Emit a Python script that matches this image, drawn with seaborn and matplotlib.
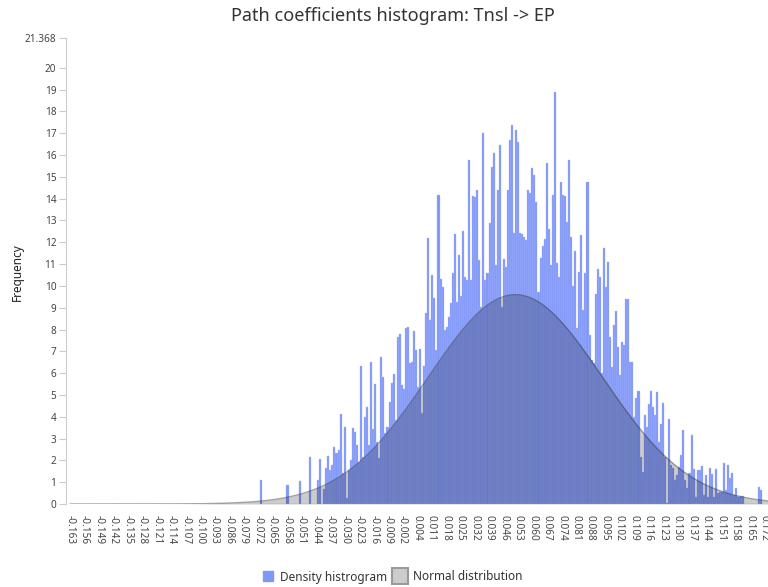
import numpy as np
import pandas as pd
import matplotlib
matplotlib.use("Agg")
import matplotlib.pyplot as plt
from matplotlib.lines import Line2D
import seaborn as sns

# Bootstrap path coefficient histogram (Tnsl -> EP)
first_bin_left = -0.0713
bin_width = 0.000985
freq = [
    1.1, 0, 0, 0, 0, 0, 0, 0, 0, 0, 0, 0, 0, 0.85, 0, 0, 0, 0, 0, 1.05,
    0, 0, 0, 0, 2.17, 0, 0, 0, 1.1, 2.06, 0, 0.7, 1.65, 2.2, 1.56, 1.8, 2.6, 2.35, 2.48, 4.13,
    1.4, 3.55, 0.27, 1.56, 2.0, 3.48, 3.3, 2.7, 1.94, 6.33, 2.17, 4.0, 4.46, 2.7, 6.5, 3.43, 5.5, 2.86, 2.1, 6.73,
    5.84, 3.25, 3.55, 4.69, 5.57, 5.95, 3.85, 7.65, 7.8, 5.46, 5.26, 8.06, 8.13, 6.48, 6.53, 7.94, 7.06, 5.35, 7.1, 4.16,
    6.33, 8.78, 12.2, 8.44, 10.5, 9.45, 7.05, 14.17, 10.3, 9.97, 7.98, 8.13, 8.59, 9.2, 10.58, 12.4, 9.28, 11.4, 9.54, 12.5,
    10.43, 10.28, 15.78, 10.28, 14.13, 14.07, 14.4, 11.19, 9.05, 17.0, 10.28, 10.58, 12.87, 15.47, 16.09, 10.96, 14.4, 16.47, 9.05, 11.22,
    10.89, 14.4, 16.7, 17.39, 12.42, 17.16, 16.62, 12.42, 12.4, 12.26, 12.1, 14.4, 14.25, 15.4, 15.09, 13.87, 9.74, 11.27, 11.85, 12.14,
    15.63, 12.6, 10.96, 14.17, 18.91, 11.04, 10.43, 14.78, 14.17, 14.12, 12.95, 15.78, 12.26, 10.0, 11.62, 8.06, 10.66, 12.34, 8.9, 10.58,
    14.78, 7.75, 6.6, 6.45, 9.62, 10.76, 10.43, 5.99, 11.75, 9.97, 11.1, 7.67, 6.3, 8.2, 8.87, 7.22, 5.92, 7.42, 7.3, 9.4,
    9.4, 6.53, 6.53, 4.0, 4.85, 5.18, 2.16, 1.48, 4.08, 3.55, 4.58, 5.2, 4.47, 4.08, 5.12, 2.86, 3.66, 4.65, 2.16, 0.05,
    3.88, 1.78, 1.63, 1.1, 1.33, 1.7, 2.25, 3.39, 1.1, 0.72, 1.4, 3.16, 1.6, 0.3, 1.56, 1.56, 1.74, 0.4, 1.33, 0.3,
    1.64, 1.38, 0.3, 1.59, 0.5, 0.57, 0.57, 1.87, 0.64, 1.79, 1.18, 1.44, 0.41, 0.72, 0.3, 0.37, 0.37, 0, 0, 0,
    0, 0, 0, 0, 0.8, 0.64,
]

# Fitted normal distribution
norm_mean = 0.052
norm_sd = 0.042
norm_peak = 9.6

x_tick_labels = [
    "-0.163", "-0.156", "-0.149", "-0.142", "-0.135", "-0.128", "-0.121", "-0.114",
    "-0.107", "-0.100", "-0.093", "-0.086", "-0.079", "-0.072", "-0.065", "-0.058",
    "-0.051", "-0.044", "-0.037", "-0.030", "-0.023", "-0.016", "-0.009", "-0.002",
    "0.004", "0.011", "0.018", "0.025", "0.032", "0.039", "0.046", "0.053",
    "0.060", "0.067", "0.074", "0.081", "0.088", "0.095", "0.102", "0.109",
    "0.116", "0.123", "0.130", "0.137", "0.144", "0.151", "0.158", "0.165", "0.172",
]
x_min_tick = -0.163
x_max_tick = 0.172
y_max = 21.368
y_ticks = list(range(0, 21)) + [y_max]
y_tick_labels = [str(v) for v in range(0, 21)] + ["21.368"]

title = "Path coefficients histogram: Tnsl -> EP"
y_label = "Frequency"
legend_labels = ["Density histrogram", "Normal distribution"]

# ---------------------------------------------------------------------------
sns.set_style("white")
plt.rcParams["font.family"] = ["Noto Sans", "DejaVu Sans"]

bar_color = "#7f97f7"
text_color = "#444444"
axis_color = "#cccccc"

fig = plt.figure(figsize=(7.68, 5.87), dpi=100)
ax = fig.add_axes([66 / 768, 83 / 587, 702 / 768, 466 / 587])

n_bins = len(freq)
centers = first_bin_left + bin_width * (np.arange(n_bins) + 0.5)
df = pd.DataFrame({"coef": centers, "freq": freq})

sns.histplot(data=df, x="coef", weights="freq", binwidth=bin_width,
             binrange=(first_bin_left, first_bin_left + n_bins * bin_width),
             ax=ax, color=bar_color, alpha=1.0, edgecolor="#a9b9fa",
             linewidth=0.25, stat="count", zorder=2)

px_per_unit = 694 / (x_max_tick - x_min_tick)
x_left = x_min_tick - 4 / px_per_unit
x_right = x_max_tick + 4 / px_per_unit

xs = np.linspace(x_min_tick, x_right, 600)
ys = norm_peak * np.exp(-0.5 * ((xs - norm_mean) / norm_sd) ** 2)
curve = pd.DataFrame({"coef": xs, "density": ys})
ax.fill_between(curve["coef"], 0, curve["density"], color="black", alpha=0.2,
                linewidth=0, zorder=3)
sns.lineplot(data=curve, x="coef", y="density", ax=ax, color="#333333",
             alpha=0.45, linewidth=1.0, zorder=4)

ax.set_xlim(x_left, x_right)
ax.set_ylim(0, y_max)

major_ticks = np.linspace(x_min_tick, x_max_tick, len(x_tick_labels))
ax.set_xticks(major_ticks)
ax.set_xticklabels(x_tick_labels, rotation=-90, fontsize=7.2, color=text_color)
minor_ticks = np.arange(x_min_tick, x_right, bin_width)
ax.set_xticks(minor_ticks, minor=True)
ax.tick_params(axis="x", which="minor", length=4, width=0.9, color="#d6d6d6",
               direction="out")
ax.tick_params(axis="x", which="major", length=4, width=0.9, color="#d6d6d6",
               pad=4)

ax.set_yticks(y_ticks)
ax.set_yticklabels(y_tick_labels, fontsize=7.2, color=text_color)
ax.tick_params(axis="y", length=5, width=0.8, color=axis_color, pad=2,
               left=True)

for side in ["top", "right", "bottom"]:
    ax.spines[side].set_visible(False)
ax.spines["left"].set_color(axis_color)
ax.spines["left"].set_linewidth(0.8)

ax.set_xlabel("")
ax.set_ylabel("")
fig.text(17 / 768, 1 - 272 / 587, y_label, rotation=90, ha="center",
         va="center", fontsize=8.5, color="#222222")
fig.text(393 / 768, 1 - 16 / 587, title, ha="center", va="center",
         fontsize=13, color="#333333")

handles = [
    Line2D([], [], linestyle="", marker="s", markersize=7.5,
           markerfacecolor=bar_color, markeredgecolor=bar_color,
           label=legend_labels[0]),
    Line2D([], [], linestyle="", marker="s", markersize=11,
           markerfacecolor="#cccccc", markeredgecolor="#9a9a9a",
           markeredgewidth=1.5, label=legend_labels[1]),
]
fig.legend(handles=handles, loc="center", bbox_to_anchor=(392 / 768, 1 - 577 / 587),
           ncol=2, frameon=False, fontsize=8.5, handlelength=1.0,
           handletextpad=0.55, columnspacing=0.6, labelcolor="#333333")

fig.savefig("out.png", dpi=100)
